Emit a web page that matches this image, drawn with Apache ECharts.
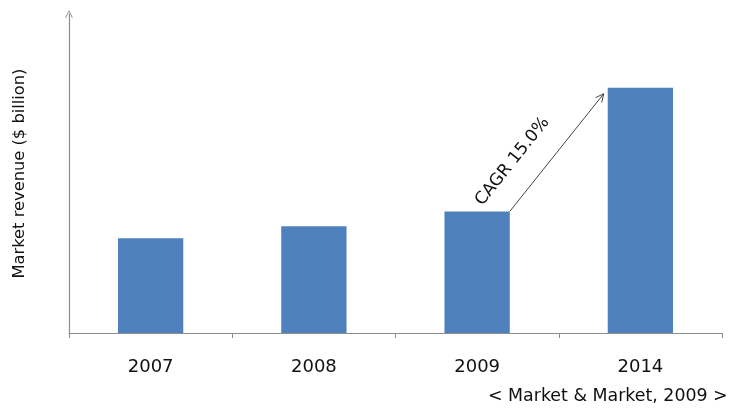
<!DOCTYPE html>
<html>
<head>
<meta charset="utf-8">
<script src="https://cdn.jsdelivr.net/npm/echarts@6/dist/echarts.min.js"></script>
<style>
  html, body { margin: 0; padding: 0; background: #fff; }
  #chart { width: 734px; height: 408px; }
</style>
</head>
<body>
<div id="chart"></div>
<script>
// Market revenue by year ($ billion)
const years = ['2007', '2008', '2009', '2014'];
const revenue = [9.5, 10.7, 12.2, 24.6];
// Growth arrow between two years
const cagrFrom = 2;   // index of 2009
const cagrTo = 3;     // index of 2014
const cagrLabel = 'CAGR 15.0%';
const yTitle = 'Market revenue ($ billion)';
const sourceNote = '< Market & Market, 2009 >';

const FONT = '"DejaVu Sans", "Noto Sans", sans-serif';
const chart = echarts.init(document.getElementById('chart'));

function renderGrowth(params, api) {
  const a = api.coord([api.value(0), api.value(1)]);
  const b = api.coord([api.value(2), api.value(3)]);
  const band = api.size([1, 0])[0];
  const half = band * 0.4 / 2;
  const sx = a[0] + half, sy = a[1];
  const ex = b[0] - half - 4, ey = b[1] + 6;
  const ang = Math.atan2(sy - ey, ex - sx);
  const len = Math.hypot(ex - sx, ey - sy);
  const ux = (ex - sx) / len, uy = (ey - sy) / len;
  const nx = uy, ny = -ux; // normal pointing to upper-left
  const head = 9, spread = 0.45;
  const h1 = [ex - head * (ux * Math.cos(spread) - uy * Math.sin(spread)),
              ey - head * (uy * Math.cos(spread) + ux * Math.sin(spread))];
  const h2 = [ex - head * (ux * Math.cos(-spread) - uy * Math.sin(-spread)),
              ey - head * (uy * Math.cos(-spread) + ux * Math.sin(-spread))];
  const tx = sx + ux * len * 0.27 + nx * 29;
  const ty = sy + uy * len * 0.27 + ny * 29;
  const lineStyle = { stroke: '#444', lineWidth: 1, fill: null };
  return {
    type: 'group',
    children: [
      { type: 'line', shape: { x1: sx, y1: sy, x2: ex, y2: ey }, style: lineStyle },
      { type: 'polyline', shape: { points: [h1, [ex, ey], h2] }, style: lineStyle },
      {
        type: 'text', x: tx, y: ty, rotation: ang,
        style: {
          text: cagrLabel, fill: '#111', font: '17px ' + FONT,
          align: 'center', verticalAlign: 'middle'
        }
      }
    ]
  };
}

chart.setOption({
  animation: false,
  backgroundColor: '#fff',
  grid: { left: 69, right: 12, top: 14, bottom: 75 },
  xAxis: {
    type: 'category',
    data: years,
    axisLine: { lineStyle: { color: '#8c8c8c', width: 1.2 } },
    axisTick: { show: true, length: 5, lineStyle: { color: '#8c8c8c' } },
    axisLabel: { color: '#111', fontSize: 18, fontFamily: FONT, margin: 25 }
  },
  yAxis: {
    type: 'value',
    min: 0,
    max: 32,
    name: yTitle,
    nameLocation: 'middle',
    nameGap: 41,
    nameTextStyle: { color: '#111', fontSize: 16.3, fontFamily: FONT },
    axisLine: {
      show: true,
      symbol: ['none', 'path://M0,10 L5,0 L10,10 L9,10.6 L5,2.4 L1,10.6 Z'],
      symbolSize: [10, 8],
      lineStyle: { color: '#8c8c8c', width: 1.2 }
    },
    axisTick: { show: false },
    axisLabel: { show: false },
    splitLine: { show: false }
  },
  graphic: [{
    type: 'text', left: 488, bottom: 3,
    style: { text: sourceNote, fill: '#111', font: '17.4px ' + FONT }
  }],
  series: [
    {
      type: 'bar',
      data: revenue,
      barWidth: '40%',
      itemStyle: { color: '#4F81BD' }
    },
    {
      type: 'custom',
      renderItem: renderGrowth,
      encode: { x: [0, 2], y: [1, 3] },
      data: [[cagrFrom, revenue[cagrFrom], cagrTo, revenue[cagrTo]]],
      z: 5
    }
  ]
});
</script>
</body>
</html>
